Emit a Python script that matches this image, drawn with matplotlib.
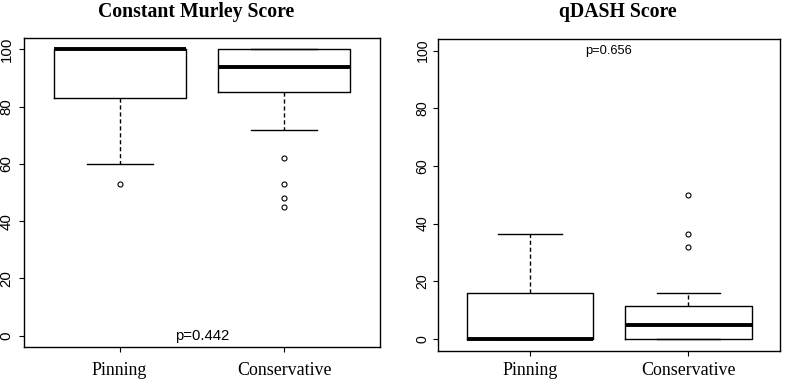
import matplotlib
matplotlib.use("Agg")
import matplotlib.pyplot as plt

# ---- data ----
groups = ["Pinning", "Conservative"]

murley_q1 = [83, 85]
murley_median = [100, 94]
murley_q3 = [100, 100]
murley_whislo = [60, 72]
murley_whishi = [100, 100]
murley_fliers = [[53], [62, 53, 48, 45]]
murley_p = "p=0.442"

qdash_q1 = [0, 0]
qdash_median = [0, 4.8]
qdash_q3 = [15.9, 11.4]
qdash_whislo = [0, 0]
qdash_whishi = [36.4, 15.9]
qdash_fliers = [[], [50, 36.4, 31.8]]
qdash_p = "p=0.656"

yticks = [0, 20, 40, 60, 80, 100]

SANS = "Liberation Sans"
SERIF = "Liberation Serif"
W, H = 787, 382

fig = plt.figure(figsize=(W / 100, H / 100), dpi=100)


def make_stats(q1, med, q3, lo, hi, fl):
    return [dict(q1=a, med=b, q3=c, whislo=d, whishi=e, fliers=f, label=g)
            for a, b, c, d, e, f, g in zip(q1, med, q3, lo, hi, fl, groups)]


def draw(rect, stats, title, title_x, ptext, p_y, p_size, xpad, ypad, ysize):
    ax = fig.add_axes(rect)
    ax.bxp(stats, positions=[1, 2], widths=0.8, showfliers=True,
           boxprops=dict(color="black", linewidth=1.0),
           medianprops=dict(color="black", linewidth=2.8, solid_capstyle="butt"),
           whiskerprops=dict(color="black", linewidth=1.0, linestyle=(0, (3, 2))),
           capprops=dict(color="black", linewidth=1.0),
           capwidths=0.4,
           flierprops=dict(marker="o", markersize=3.6, markerfacecolor="none",
                           markeredgecolor="black", markeredgewidth=0.8))
    ax.set_xlim(0.42, 2.58)
    ax.set_ylim(-4, 104)
    ax.set_yticks(yticks)
    ax.set_yticklabels([str(v) for v in yticks], rotation=90, va="center",
                       fontfamily=SANS, fontsize=ysize)
    ax.set_xticks([1, 2])
    ax.set_xticklabels(groups, fontfamily=SERIF, fontsize=12.9)
    ax.tick_params(axis="y", direction="out", length=3.6, width=0.8, pad=ypad)
    ax.tick_params(axis="x", direction="out", length=3.6, width=0.8, pad=xpad)
    for s in ax.spines.values():
        s.set_linewidth(1.0)
        s.set_color("black")
    ax.text(1.5, p_y, ptext, ha="center", va="center", fontfamily=SANS,
            fontsize=p_size)
    fig.text(title_x / W, 1 - 17 / H, title, ha="center", va="baseline",
             fontfamily=SERIF, fontweight="bold", fontsize=14.2)
    return ax


draw([24 / W, 1 - 347 / H, 356 / W, 309 / H],
     make_stats(murley_q1, murley_median, murley_q3, murley_whislo,
                murley_whishi, murley_fliers),
     "Constant Murley Score", 196, murley_p, 0, 10.7, 7.5, 4.0, 10.8)

draw([438 / W, 1 - 350.5 / H, 342 / W, 311.5 / H],
     make_stats(qdash_q1, qdash_median, qdash_q3, qdash_whislo,
                qdash_whishi, qdash_fliers),
     "qDASH Score", 617.5, qdash_p, 100, 9.3, 5, 2.5, 10.2)

fig.savefig("out.png", dpi=100)
